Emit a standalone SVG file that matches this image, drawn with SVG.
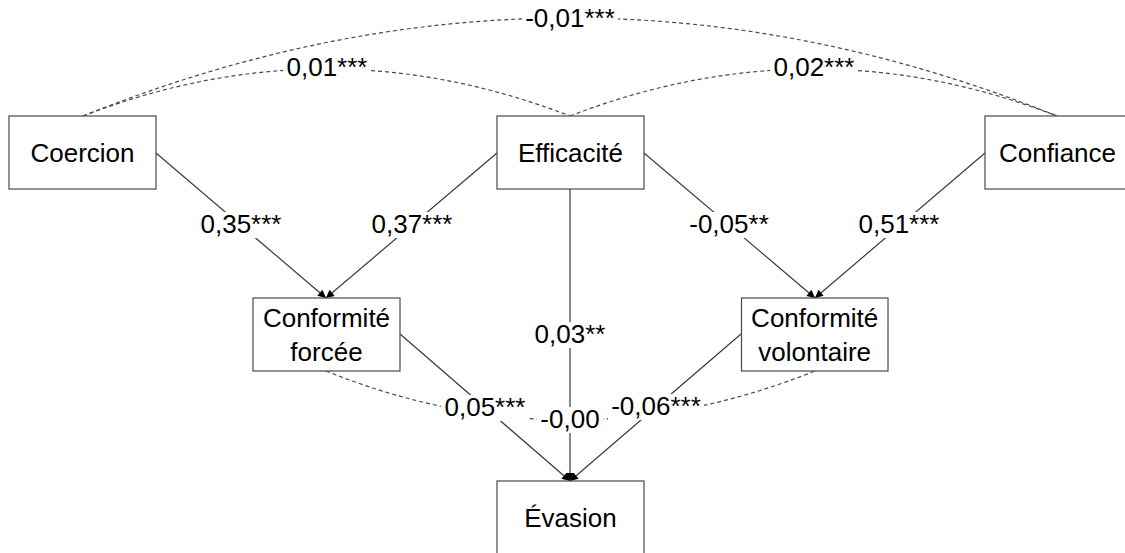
<svg xmlns="http://www.w3.org/2000/svg" width="1125" height="553" viewBox="0 0 1125 553">
<style>
.box{fill:#fff;stroke:#4a4a4a;stroke-width:1.2}
.t{font-family:"Liberation Sans",Arial,sans-serif;font-size:26px;fill:#000;text-anchor:middle}
.edge{fill:none;stroke:#3a3a3a;stroke-width:1.2}
.cov{fill:none;stroke:#4a4a4a;stroke-width:1.2;stroke-dasharray:4 3}
.bg{fill:#fff}
</style>
<defs>
<marker id="ah" viewBox="0 0 10 10" refX="10" refY="5" markerWidth="9" markerHeight="8" markerUnits="userSpaceOnUse" orient="auto">
<path d="M0,0 L10,5 L0,10 z" fill="#000"/>
</marker>
</defs>
<rect width="1125" height="553" fill="#fff"/>
<g id="connectors">
<path class="cov" d="M83,116 Q570,-80 1057,116"/>
<path class="cov" d="M83,116 Q326.5,22 570,116"/>
<path class="cov" d="M570,116 Q813.5,22 1057,116"/>
<path class="cov" d="M326,371 Q570,469 815,371"/>
<line class="edge" x1="156" y1="153" x2="326" y2="298" marker-end="url(#ah)"/>
<line class="edge" x1="497" y1="153" x2="326" y2="298" marker-end="url(#ah)"/>
<line class="edge" x1="644" y1="153" x2="815" y2="298" marker-end="url(#ah)"/>
<line class="edge" x1="985" y1="153" x2="815" y2="298" marker-end="url(#ah)"/>
<line class="edge" x1="570" y1="189" x2="570" y2="481" marker-end="url(#ah)"/>
<line class="edge" x1="400" y1="334" x2="570" y2="481" marker-end="url(#ah)"/>
<line class="edge" x1="741" y1="334" x2="570" y2="481" marker-end="url(#ah)"/>
<g id="labels">
<rect class="bg" x="522" y="6" width="96" height="26"/><text class="t" x="570" y="27">-0,01***</text>
<rect class="bg" x="283" y="56" width="88" height="26"/><text class="t" x="327" y="76">0,01***</text>
<rect class="bg" x="770" y="56" width="88" height="26"/><text class="t" x="814" y="76">0,02***</text>
<rect class="bg" x="197" y="212" width="88" height="26"/><text class="t" x="241" y="233">0,35***</text>
<rect class="bg" x="368" y="212" width="88" height="26"/><text class="t" x="412" y="233">0,37***</text>
<rect class="bg" x="685" y="212" width="88" height="26"/><text class="t" x="729" y="233">-0,05**</text>
<rect class="bg" x="855" y="212" width="88" height="26"/><text class="t" x="899" y="233">0,51***</text>
<rect class="bg" x="532" y="322" width="76" height="26"/><text class="t" x="570" y="343">0,03**</text>
<rect class="bg" x="441" y="395" width="88" height="26"/><text class="t" x="485" y="416">0,05***</text>
<rect class="bg" x="537" y="407" width="66" height="26"/><text class="t" x="570" y="428">-0,00</text>
<rect class="bg" x="608" y="394" width="96" height="26"/><text class="t" x="656" y="415">-0,06***</text>
</g>
</g>
<g id="coercion"><rect class="box" x="9" y="116" width="147" height="73"/><text class="t" x="82.5" y="162">Coercion</text></g>
<g id="efficacite"><rect class="box" x="497" y="116" width="147" height="73"/><text class="t" x="570.5" y="162">Efficacité</text></g>
<g id="confiance"><rect class="box" x="985" y="116" width="147" height="73"/><text class="t" x="1057.5" y="162">Confiance</text></g>
<g id="conformite-forcee"><rect class="box" x="253" y="298" width="147" height="73"/><text class="t" x="326.5" y="327">Conformité</text><text class="t" x="326.5" y="361">forcée</text></g>
<g id="conformite-volontaire"><rect class="box" x="741.5" y="298" width="146.5" height="73"/><text class="t" x="814.7" y="327">Conformité</text><text class="t" x="814.7" y="361">volontaire</text></g>
<g id="evasion"><rect class="box" x="497" y="481" width="147" height="73"/><text class="t" x="570.5" y="527">Évasion</text></g>
</svg>
